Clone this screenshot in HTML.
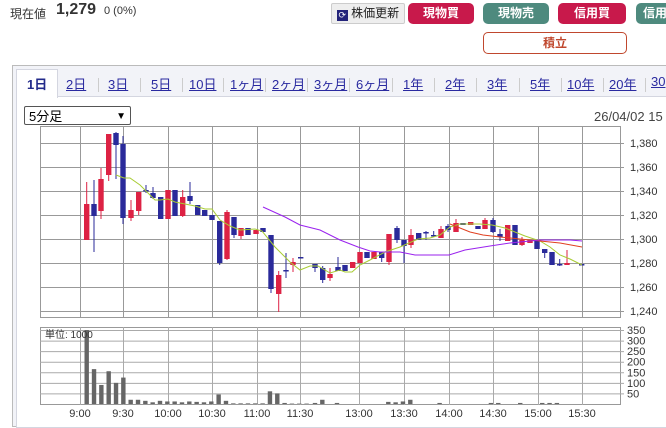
<!DOCTYPE html>
<html><head><meta charset="utf-8">
<style>
body{margin:0;width:666px;height:420px;overflow:hidden;background:#fff;font-family:"Liberation Sans","Noto Sans CJK JP",sans-serif;position:relative}
.a{position:absolute;white-space:nowrap}
.btn{position:absolute;top:3px;height:21px;border-radius:5px;color:#fff;font-weight:bold;font-size:12px;text-align:center;line-height:21px}
.tab{position:absolute;top:74px;font-size:13px;color:#2a2aa0;text-decoration:underline}
.sep{position:absolute;top:78px;width:1px;height:14px;background:#ccc}
</style></head><body>
<div class="a" style="left:10px;top:5px;font-size:12px;color:#333">現在値</div>
<div class="a" style="left:56px;top:1px;font-size:16px;font-weight:bold;color:#333">1,279</div>
<div class="a" style="left:104px;top:5px;font-size:11px;color:#333">0 (0%)</div>
<div class="btn" style="left:331px;width:72px;background:#eee;border:1px solid #ccc;color:#222;font-weight:normal;height:19px;line-height:19px;border-radius:2px"><span style="display:inline-block;width:11px;height:11px;background:#23237a;color:#fff;font-size:9px;line-height:11px;vertical-align:-1px">⟳</span> 株価更新</div>
<div class="btn" style="left:408px;width:66px;background:#c8194b">現物買</div>
<div class="btn" style="left:483px;width:66px;background:#4e8a7e">現物売</div>
<div class="btn" style="left:558px;width:68px;background:#c8194b">信用買</div>
<div class="btn" style="left:636px;width:40px;background:#4e8a7e;text-align:left;padding-left:7px">信用</div>
<div class="a" style="left:483px;top:32px;width:142px;height:20px;border:1px solid #c0482e;border-radius:5px;color:#c0482e;font-weight:bold;font-size:12px;text-align:center;line-height:20px">積立</div>
<div class="a" style="left:12px;top:65px;width:660px;height:360px;border:1px solid #bbb;background:#f2f3f8"></div>
<div class="a" style="left:16px;top:96px;width:660px;height:330px;border:1px solid #d4d6e0;background:#fff"></div>
<div class="a" style="left:16px;top:69px;width:40px;height:28px;background:#fff;border:1px solid #d4d6e0;border-bottom:none"></div>
<div class="a" style="left:27px;top:74px;font-size:13px;color:#222a8a;font-weight:bold">1日</div>
<div class="tab" style="left:66px">2日</div><div class="tab" style="left:108px">3日</div><div class="tab" style="left:151px">5日</div><div class="tab" style="left:189px">10日</div><div class="tab" style="left:230px">1ヶ月</div><div class="tab" style="left:272px">2ヶ月</div><div class="tab" style="left:314px">3ヶ月</div><div class="tab" style="left:356px">6ヶ月</div><div class="tab" style="left:403px">1年</div><div class="tab" style="left:445px">2年</div><div class="tab" style="left:487px">3年</div><div class="tab" style="left:530px">5年</div><div class="tab" style="left:567px">10年</div><div class="tab" style="left:609px">20年</div><div class="tab" style="left:651px">30</div>
<div class="sep" style="left:98px"></div><div class="sep" style="left:140px"></div><div class="sep" style="left:182px"></div><div class="sep" style="left:223px"></div><div class="sep" style="left:265px"></div><div class="sep" style="left:307px"></div><div class="sep" style="left:349px"></div><div class="sep" style="left:392px"></div><div class="sep" style="left:434px"></div><div class="sep" style="left:476px"></div><div class="sep" style="left:519px"></div><div class="sep" style="left:561px"></div><div class="sep" style="left:603px"></div><div class="sep" style="left:645px"></div>
<div class="a" style="left:24px;top:106px;width:107px;height:19px;border:1px solid #555;border-radius:2px;font-size:13px;line-height:19px;padding-left:4px;box-sizing:border-box;background:#fff">5分足<span style="position:absolute;right:4px;font-size:10px">▼</span></div>
<div class="a" style="left:594px;top:109px;font-size:13px;color:#444">26/04/02 15</div>
<svg id="s" class="a" style="left:0;top:0" width="666" height="420" font-family="Liberation Sans, sans-serif"></svg>
<script>
var s=document.getElementById('s'),h='';
function L(x1,y1,x2,y2,c,w){h+='<line x1="'+x1+'" y1="'+y1+'" x2="'+x2+'" y2="'+y2+'" stroke="'+c+'" stroke-width="'+(w||1)+'"/>';}
function T(x,y,t,sz,a){h+='<text x="'+x+'" y="'+y+'" font-size="'+sz+'" fill="#333"'+(a?' text-anchor="'+a+'"':'')+'>'+t+'</text>';}
var vx=[80,123,168,212,257,300,359,404,449,493,538,582],g='#999';
h+='<rect x="40.5" y="126.5" width="580" height="191" fill="#fff" stroke="'+g+'"/>';
for(var i=0;i<8;i++){var y=143+i*24;L(40,y+.5,624,y+.5,g);T(630,y+4,(1380-20*i).toLocaleString('en'),11);}
vx.forEach(function(x){L(x+.5,126,x+.5,318,g);});
var C=[[86.7,182,240,204,240,'r'],[94,180,252,204,216,'b'],[101,168,219,179,211,'r'],[108.7,134,181,134,175,'r'],[116,132,179,133,145,'b'],[123,136,224,144,218,'b'],[131,200,221,210,218,'r'],[138.7,192,215,192,211,'r'],[146,185,193,190,191,'b'],[153,187,199,193,198,'b'],[160.7,197,219,197,219,'b'],[168,190,219,190,219,'r'],[175,190,216,190,216,'b'],[182.7,190,217,197,216,'r'],[190,182,204,196,201,'b'],[197.7,205,215,205,215,'b'],[204.7,210,216,210,216,'b'],[212,215,220,215,220,'b'],[219.7,221,265,221,263,'b'],[227,210,260,212,259,'r'],[234,217,238,217,235,'b'],[241,228,239,228,236,'r'],[248,228,235,228,235,'b'],[256,230,234,230,234,'r'],[263,228,232,228,232,'b'],[271,235,293,235,289,'b'],[278.7,271,312,275,294,'r'],[286,253,278,270,271,'b'],[293,258,272,262,265,'r'],[300.7,258,258,257,258,'b'],
[315,264,272,264,268,'b'],[322.7,266,283,268,280,'b'],[330,268,281,274,278,'r'],[338,257,271,267,271,'b'],[345,265,271,265,271,'b'],[352.7,262,268,262,268,'r'],[360,252,263,252,263,'r'],[367,252,258,252,258,'b'],[374,252,259,252,259,'r'],[381.7,252,262,252,258,'b'],[389,234,265,234,262,'r'],[397,226,243,228,240,'b'],[404,240,263,240,246,'b'],[411,229,248,235,245,'r'],[418.7,233,240,233,240,'b'],[426,231,240,232,233,'b'],[433.7,231,237,235,236,'b'],[441,226,238,229,238,'r'],[448,224,232,226,230,'b'],[456,219,232,223,232,'r'],[463,223,225,223,225,'b'],[470.7,222,225,222,225,'r'],[478,226,229,226,229,'b'],[485,218,229,220,229,'r'],[493,218,233,220,232,'b'],[500,229,241,234,237,'b'],[507.7,225,241,225,241,'r'],[515,225,245,225,245,'b'],[522,237,246,240,245,'r'],[530,240,243,240,243,'r'],[537,240,249,240,249,'b'],[544.7,249,258,249,253,'b'],[552,252,265,252,265,'b'],[559.7,259,266,264,265,'b'],[567,250,265,263,265,'r'],[581.7,265,265,264,265,'b']];
C.forEach(function(c){var col=c[5]=='r'?'#dd2244':'#2a2a9a';L(c[0],c[1],c[0],c[2],col);var bh=Math.max(1.5,c[4]-c[3]);h+='<rect x="'+(c[0]-2.7)+'" y="'+c[3]+'" width="5.4" height="'+bh+'" fill="'+col+'"/>';});
function P(pts,c){h+='<polyline fill="none" stroke="'+c+'" stroke-width="1" points="'+pts+'"/>';}
P('116,175 124,178 130,178 140,185 146,191 150,195 155,200 160,200 168,199 175,202 185,204 195,206 205,209 212,209 220,220 230,226 240,230 255,229 262,231 275,247 290,262 300,270 310,266 318,266 330,273 340,270 345,272 352,272 360,265 370,260 385,252 400,247 418,239 430,238 440,235 450,227 460,224 470,224 480,224 492,225 505,228 515,232 525,236 540,241 550,247 560,255 570,259 582,265','#a8cc33');
P('450,224 470,232 483,235 500,237 520,239 540,241 560,243 582,247','#e04020');
P('263,207 285,217 300,225 320,230 340,240 358,247 370,251 380,252 400,252 415,255 449,255 465,250 490,246 510,243 540,240 570,240 582,241','#9a22ee');
h+='<rect x="40.5" y="327.5" width="580" height="77" fill="#fff" stroke="'+g+'"/>';
var vl=[350,300,250,200,150,100,50];
vl.forEach(function(v){var y=404-v*0.2114;L(40,y+.5,624,y+.5,'#aaa');T(627,y+4,v,11);});
vx.forEach(function(x){L(x+.5,327,x+.5,405,'#aaa');});
var m=[350,165,90,155,100,125,20,20,15,8,15,12,12,8,12,10,8,12,45,15,3,3,3,3,3,60,50,5,2,2,2];
m.forEach(function(v,i){var x=86.7+7.33*i,hh=v*0.2114;if(v>0)h+='<rect x="'+(x-2.2)+'" y="'+(404-hh)+'" width="4.4" height="'+hh+'" fill="#666"/>';});
var af={0:5,1:20,3:5,10:10,11:8,12:12,13:20,17:5,24:5,25:5,28:5,31:5,32:5,33:5};
for(var j in af){var x=315+7.33*j,hh=af[j]*0.2114;h+='<rect x="'+(x-2.2)+'" y="'+(404-hh)+'" width="4.4" height="'+hh+'" fill="#666"/>';}
T(45,338,'単位: 1000',10);
var tl=['9:00','9:30','10:00','10:30','11:00','11:30','13:00','13:30','14:00','14:30','15:00','15:30'];
tl.forEach(function(t,i){T(vx[i],417,t,11,'middle');});
s.innerHTML=h;
</script>
</body></html>
